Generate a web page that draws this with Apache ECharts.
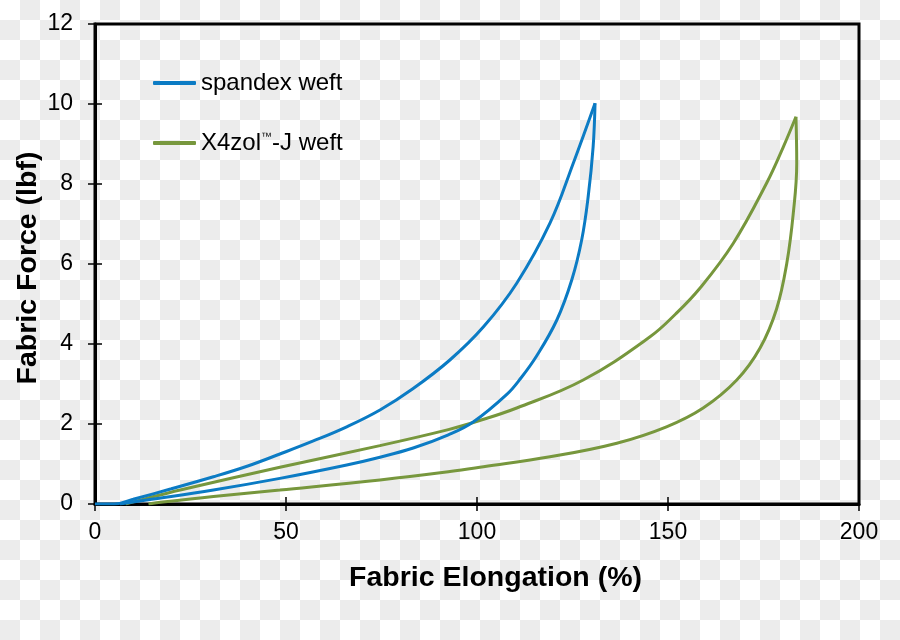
<!DOCTYPE html>
<html>
<head>
<meta charset="utf-8">
<script src="https://cdn.jsdelivr.net/npm/echarts@6/dist/echarts.min.js"></script>
<style>
  html, body { margin: 0; padding: 0; }
  body {
    width: 900px; height: 640px;
    background: repeating-conic-gradient(#ececec 0 25%, #ffffff 0 50%) 0 0 / 40px 40px;
  }
  #chart { width: 900px; height: 640px; }
</style>
</head>
<body>
<div id="chart"></div>
<script>
// Axis ticks
const xTicks = [0, 50, 100, 150, 200];
const yTicks = [0, 2, 4, 6, 8, 10, 12];

// Series names
const seriesNames = ['spandex weft', 'X4zol\u2122-J weft'];

// spandex weft: loading (upper) and unloading (lower) branches [elongation %, force lbf]
const spandexLoading = [
  [0, 0], [5, 0], [10, 0.12], [20, 0.38], [31, 0.68], [40, 0.95], [48.4, 1.25],
  [57, 1.57], [65.9, 1.93], [74.6, 2.35], [83.2, 2.88], [92.9, 3.6], [101.7, 4.43],
  [110.4, 5.52], [119.1, 7.02], [125.2, 8.52], [130.9, 10.02]
];
const spandexUnloading = [
  [130.9, 10.02], [130.4, 8.93], [129.1, 7.68], [127.4, 6.6], [124.8, 5.6],
  [120.9, 4.6], [115.6, 3.7], [111.5, 3.15], [107.8, 2.74], [99, 2.05], [92.5, 1.73],
  [83.3, 1.4], [74.6, 1.17], [65.9, 0.975], [48.4, 0.64], [31, 0.35], [13.5, 0.1], [6.5, 0]
];

// X4zol-J weft: loading (upper) and unloading (lower) branches
const x4zolLoading = [
  [8, 0], [13.5, 0.14], [22.3, 0.35], [48.4, 0.92], [74.6, 1.46], [92.5, 1.86],
  [100.5, 2.08], [110.4, 2.4], [127.8, 3.1], [145.3, 4.18], [152, 4.75], [158.4, 5.4],
  [167.1, 6.52], [175.8, 8.02], [180.2, 8.93], [183.5, 9.68]
];
const x4zolUnloading = [
  [183.5, 9.68], [183.7, 8.52], [182.8, 7.27], [181.1, 6.02], [178.4, 4.87],
  [174.1, 3.9], [168, 3.1], [159.2, 2.4], [149.6, 1.93], [136.6, 1.52],
  [119.1, 1.18], [101.7, 0.93], [92.9, 0.81], [74.6, 0.6], [48.4, 0.35],
  [31, 0.19], [17.8, 0.05], [14, 0]
];

const colors = ['#0B7BC4', '#77973D'];
const FONT = '"Liberation Sans", Arial, sans-serif';

const chart = echarts.init(document.getElementById('chart'), null, { renderer: 'canvas' });

function lineSeries(name, data, color) {
  return {
    name: name,
    type: 'line',
    data: data,
    showSymbol: false,
    symbol: 'none',
    smooth: 0.4,
    lineStyle: { color: color, width: 3 },
    itemStyle: { color: color },
    emphasis: { disabled: true },
    xAxisIndex: 0,
    yAxisIndex: 0
  };
}

const baseX = {
  type: 'value', min: xTicks[0], max: xTicks[xTicks.length - 1], interval: 50,
  splitLine: { show: false }
};
const baseY = {
  type: 'value', min: yTicks[0], max: yTicks[yTicks.length - 1], interval: 2,
  splitLine: { show: false }
};

chart.setOption({
  animation: false,
  backgroundColor: 'transparent',
  textStyle: { fontFamily: FONT },
  grid: {
    left: 95, right: 41, top: 24, bottom: 136,
    show: true, borderColor: '#000', borderWidth: 3, backgroundColor: 'transparent'
  },
  legend: {
    data: seriesNames,
    orient: 'vertical',
    left: 153, top: 70, padding: 0,
    itemWidth: 43, itemHeight: 4, itemGap: 34,
    icon: 'roundRect',
    formatter: function (name) {
      return name.indexOf('\u2122') >= 0 ? name.replace('\u2122', '{tm|\u2122}') : name;
    },
    textStyle: {
      fontSize: 24, color: '#000', fontFamily: FONT, lineHeight: 26,
      rich: {
        tm: { fontSize: 11, color: '#000', fontFamily: FONT, padding: [0, 0, 13, 0], lineHeight: 12 }
      }
    },
    selectedMode: false
  },
  xAxis: [
    Object.assign({}, baseX, {
      position: 'bottom',
      axisLine: { show: true, lineStyle: { color: '#000', width: 3 } },
      axisTick: { show: true, inside: false, length: 7, lineStyle: { color: '#000', width: 1.5 } },
      axisLabel: { fontSize: 23, color: '#000', margin: 17, fontFamily: FONT }
    }),
    Object.assign({}, baseX, {
      position: 'bottom',
      axisLine: { show: false },
      axisTick: { show: true, inside: true, length: 7, lineStyle: { color: '#000', width: 1.5 } },
      axisLabel: { show: false }
    })
  ],
  yAxis: [
    Object.assign({}, baseY, {
      position: 'left',
      axisLine: { show: true, lineStyle: { color: '#000', width: 3 } },
      axisTick: { show: true, inside: false, length: 7, lineStyle: { color: '#000', width: 1.5 } },
      axisLabel: { fontSize: 23, color: '#000', margin: 22, fontFamily: FONT }
    }),
    Object.assign({}, baseY, {
      position: 'left',
      axisLine: { show: false },
      axisTick: { show: true, inside: true, length: 7, lineStyle: { color: '#000', width: 1.5 } },
      axisLabel: { show: false }
    })
  ],
  series: [
    lineSeries(seriesNames[1], x4zolLoading, colors[1]),
    lineSeries(seriesNames[1], x4zolUnloading, colors[1]),
    lineSeries(seriesNames[0], spandexLoading, colors[0]),
    lineSeries(seriesNames[0], spandexUnloading, colors[0])
  ],
  graphic: [
    {
      type: 'text', x: 495.5, y: 578,
      style: {
        text: 'Fabric Elongation (%)', fontSize: 28.5, fontWeight: 'bold',
        fontFamily: FONT, fill: '#000', align: 'center', verticalAlign: 'middle'
      }
    },
    {
      type: 'text', x: 28, y: 268, rotation: Math.PI / 2,
      style: {
        text: 'Fabric Force (lbf)', fontSize: 28.5, fontWeight: 'bold',
        fontFamily: FONT, fill: '#000', align: 'center', verticalAlign: 'middle'
      }
    }
  ]
});
</script>
</body>
</html>
